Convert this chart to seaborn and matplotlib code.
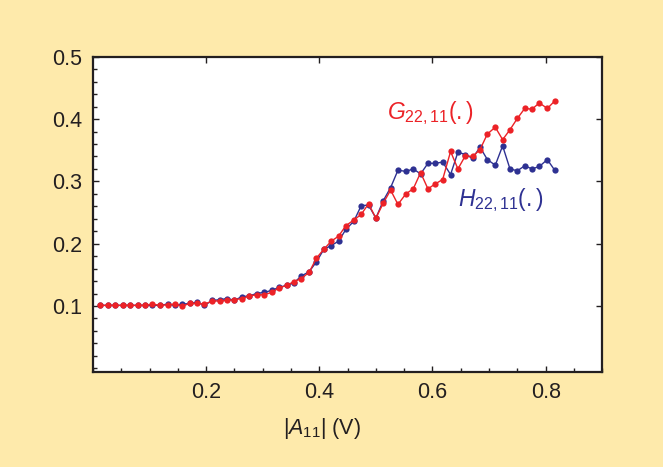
import numpy as np
import pandas as pd
import matplotlib
matplotlib.use("Agg")
import matplotlib.pyplot as plt
from matplotlib.ticker import MultipleLocator
import seaborn as sns

# amplitude |A11| (V)
amp = [0.013, 0.026, 0.039, 0.053, 0.066, 0.079, 0.092, 0.105, 0.118, 0.132,
       0.145, 0.158, 0.171, 0.184, 0.197, 0.211, 0.224, 0.237, 0.250, 0.263,
       0.276, 0.289, 0.303, 0.316, 0.329, 0.342, 0.355, 0.368, 0.382, 0.395,
       0.408, 0.421, 0.434, 0.447, 0.461, 0.474, 0.487, 0.500, 0.513, 0.526,
       0.539, 0.553, 0.566, 0.579, 0.592, 0.605, 0.618, 0.632, 0.645, 0.658,
       0.671, 0.684, 0.697, 0.711, 0.724, 0.737, 0.750, 0.763, 0.776, 0.789,
       0.803, 0.816]

# H_22,11 (blue)
h_vals = [0.101, 0.101, 0.101, 0.101, 0.101, 0.101, 0.101, 0.101, 0.101, 0.103,
          0.101, 0.103, 0.104, 0.106, 0.101, 0.109, 0.110, 0.112, 0.109, 0.115,
          0.116, 0.120, 0.122, 0.125, 0.130, 0.133, 0.137, 0.148, 0.155, 0.171,
          0.191, 0.197, 0.204, 0.223, 0.236, 0.261, 0.262, 0.241, 0.269, 0.290,
          0.318, 0.316, 0.320, 0.312, 0.329, 0.329, 0.331, 0.311, 0.347, 0.343,
          0.337, 0.355, 0.335, 0.326, 0.357, 0.320, 0.317, 0.325, 0.320, 0.324,
          0.335, 0.318]

# G_22,11 (red)
g_vals = [0.101, 0.101, 0.101, 0.101, 0.101, 0.101, 0.101, 0.103, 0.101, 0.102,
          0.103, 0.100, 0.104, 0.104, 0.103, 0.108, 0.108, 0.109, 0.110, 0.112,
          0.116, 0.118, 0.118, 0.122, 0.129, 0.133, 0.139, 0.144, 0.154, 0.177,
          0.191, 0.204, 0.212, 0.229, 0.238, 0.247, 0.264, 0.241, 0.265, 0.286,
          0.263, 0.280, 0.288, 0.314, 0.288, 0.296, 0.303, 0.348, 0.320, 0.341,
          0.340, 0.351, 0.376, 0.387, 0.367, 0.383, 0.401, 0.417, 0.416, 0.426,
          0.417, 0.429]

series_names = ["H", "G"]
red = "#EC2227"
blue = "#2E3192"
ink = "#231F20"

df = pd.DataFrame({
    "amp": amp * 2,
    "val": h_vals + g_vals,
    "series": ["H"] * len(amp) + ["G"] * len(amp),
})

sns.set_style("ticks")
plt.rcParams["font.family"] = ["Liberation Sans", "DejaVu Sans"]
plt.rcParams["mathtext.fontset"] = "custom"
plt.rcParams["mathtext.rm"] = "Liberation Sans"
plt.rcParams["mathtext.it"] = "Liberation Sans:italic"

fig = plt.figure(figsize=(6.63, 4.67), dpi=100, facecolor="#FEEAAB")
ax = fig.add_axes([0.1403, 0.2034, 0.768, 0.675])
ax.set_facecolor("white")

sns.lineplot(data=df, x="amp", y="val", hue="series", hue_order=series_names,
             palette={"H": blue, "G": red}, marker="o", markersize=4.5,
             markeredgewidth=0, linewidth=1.0, legend=False, ax=ax)

ax.set_xlim(0, 0.9)
ax.set_ylim(-0.006, 0.5)
ax.set_xticks([0.2, 0.4, 0.6, 0.8])
ax.set_yticks([0.1, 0.2, 0.3, 0.4, 0.5])
ax.xaxis.set_minor_locator(MultipleLocator(0.05))
ax.yaxis.set_minor_locator(MultipleLocator(0.02))
ax.tick_params(which="both", direction="in", colors=ink, width=1.0,
               labelsize=15.5, labelcolor=ink)
ax.tick_params(which="major", length=4.5)
ax.tick_params(which="minor", length=2.8)
ax.tick_params(axis="x", pad=7, top=True)
ax.tick_params(axis="y", pad=8, right=True)
ax.tick_params(which="minor", top=False, right=False)
for s in ax.spines.values():
    s.set_visible(True)
    s.set_color(ink)
    s.set_linewidth(1.6)

ax.set_xlabel(r"|$A_{11}$| (V)", fontsize=15.5, color=ink)
ax.xaxis.set_label_coords(0.45, -0.14)
ax.set_ylabel("")

ax.text(0.52, 0.40, r"$G_{22,11}(.)$", color=red, fontsize=16.5)
ax.text(0.645, 0.26, r"$H_{22,11}(.)$", color=blue, fontsize=16.5)

fig.savefig("out.png", dpi=100, facecolor=fig.get_facecolor())
